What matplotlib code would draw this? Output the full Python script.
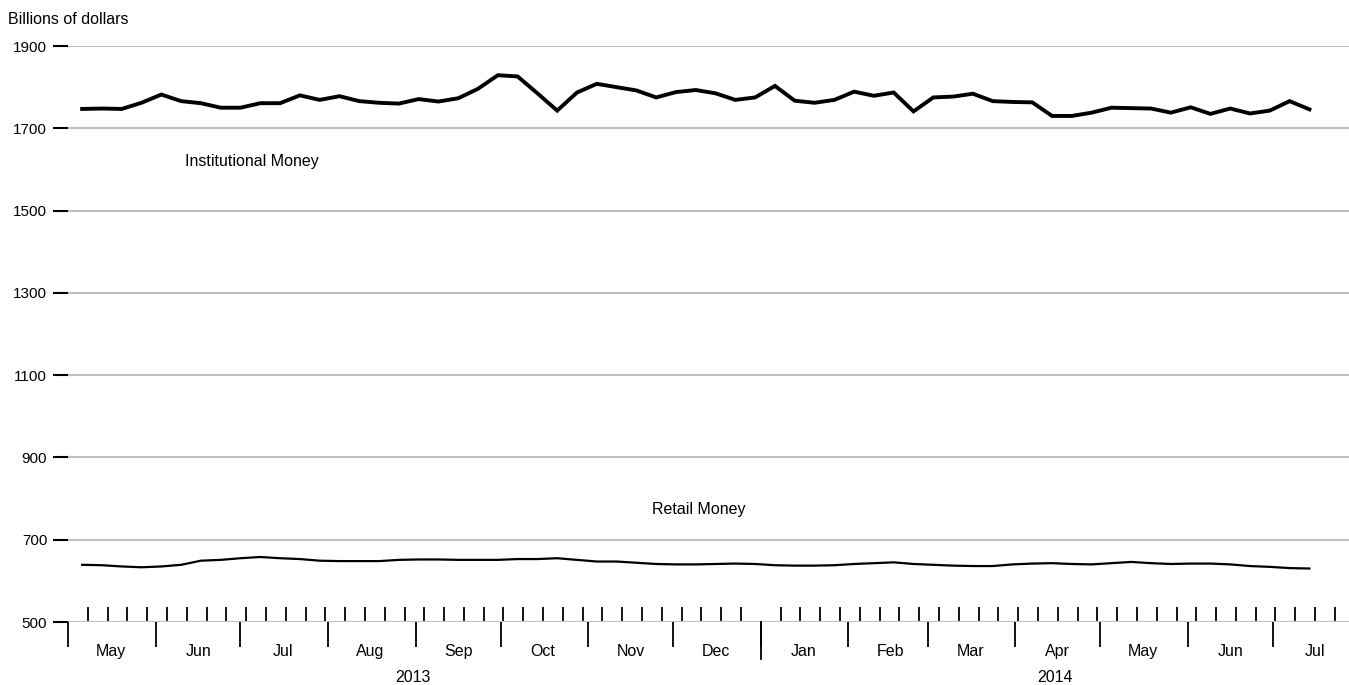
import datetime as dt

import matplotlib as mpl

mpl.use("Agg")

import matplotlib.dates as mdates
import matplotlib.pyplot as plt
import matplotlib.transforms as mtransforms

plt.rcParams["font.family"] = ["Liberation Sans", "DejaVu Sans"]

START = dt.date(2013, 5, 6)
N_WEEKS = 63

institutional = [
    1747, 1748, 1747, 1762, 1782, 1766, 1761, 1750, 1750, 1761, 1761, 1780,
    1769, 1778, 1766, 1762, 1760, 1771, 1765, 1773, 1796, 1829, 1826, 1785,
    1743, 1787, 1808, 1800, 1792, 1775, 1788, 1793, 1785, 1769, 1775, 1803,
    1767, 1762, 1769, 1789, 1779, 1787, 1741, 1775, 1777, 1784, 1766, 1764,
    1763, 1730, 1730, 1738, 1750, 1749, 1748, 1738, 1751, 1735, 1748, 1736,
    1743, 1766, 1746,
]
retail = [
    639, 638, 635, 633, 635, 639, 649, 651, 655, 658, 655, 653,
    649, 648, 648, 648, 651, 652, 652, 651, 651, 651, 653, 653,
    655, 651, 647, 647, 644, 641, 640, 640, 641, 642, 641, 638,
    637, 637, 638, 641, 643, 645, 641, 639, 637, 636, 636, 640,
    642, 643, 641, 640, 643, 646, 643, 641, 642, 642, 640, 636,
    634, 631, 630,
]
y_ticks = [500, 700, 900, 1100, 1300, 1500, 1700, 1900]

weeks = [START + dt.timedelta(days=7 * i) for i in range(N_WEEKS)]
month_starts = [dt.date(2013 + (4 + m) // 12, (4 + m) % 12 + 1, 1) for m in range(16)]

fig = plt.figure(figsize=(13.49, 6.85), dpi=100)
ax = fig.add_axes([68 / 1349, 63 / 685, 1 - 68 / 1349, 576 / 685])

ax.plot(weeks, institutional, color="black", lw=2.8, solid_joinstyle="miter")
ax.plot(weeks, retail, color="black", lw=1.6)

ax.set_ylim(500, 1900)
ax.set_xlim(dt.date(2013, 5, 1), dt.date(2014, 7, 28))
ax.set_yticks(y_ticks)
ax.grid(axis="y", color="#c0c0c0", lw=1.5)
ax.set_axisbelow(True)
for spine in ax.spines.values():
    spine.set_visible(False)
ax.tick_params(axis="y", direction="out", length=11, width=1.5, labelsize=11, pad=4)

ax.xaxis.set_major_locator(mdates.MonthLocator())
ax.xaxis.set_minor_locator(mdates.WeekdayLocator(byweekday=mdates.WE))
ax.xaxis.set_major_formatter(plt.NullFormatter())
ax.tick_params(axis="x", which="major", direction="out", length=18, width=1.3)
ax.tick_params(axis="x", which="minor", direction="in", length=11, width=1.3)

trans = mtransforms.blended_transform_factory(ax.transData, ax.transAxes)
ax.plot([dt.date(2014, 1, 1)] * 2, [0, -0.065], color="black", lw=1.3,
        transform=trans, clip_on=False)
for m in month_starts[:-1]:
    mid = m + dt.timedelta(days=15)
    ax.text(mid, -0.052, m.strftime("%b"), transform=trans, ha="center", va="center",
            fontsize=11.5)
ax.text(dt.date(2013, 8, 31), -0.096, "2013", transform=trans, ha="center", va="center",
        fontsize=11.5)
ax.text(dt.date(2014, 4, 15), -0.096, "2014", transform=trans, ha="center", va="center",
        fontsize=11.5)

fig.text(8 / 1349, 1 - 20 / 685, "Billions of dollars", fontsize=11.5, va="center")
ax.text(dt.date(2013, 7, 5), 1620, "Institutional Money", ha="center", va="center", fontsize=11.5)
ax.text(dt.date(2013, 12, 10), 773, "Retail Money", ha="center", va="center", fontsize=11.5)

fig.savefig("out.png", dpi=100)
